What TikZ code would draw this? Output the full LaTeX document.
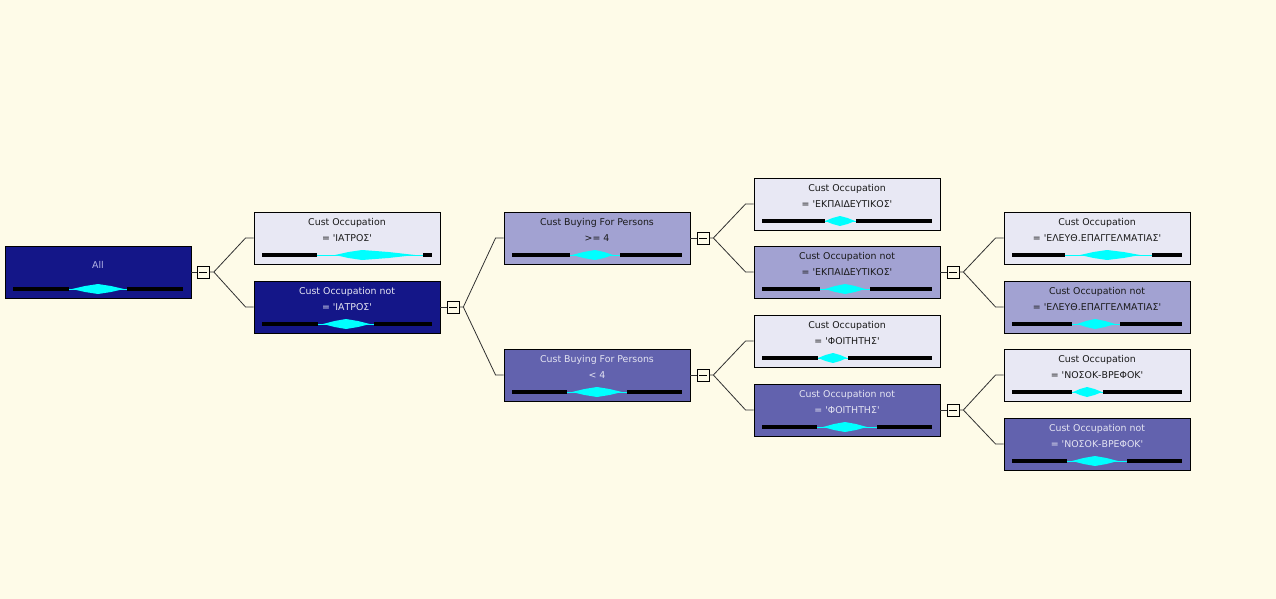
\documentclass[tikz,border=0pt]{standalone}
\usepackage{fontspec}
\newfontfamily\uifont{DejaVu Sans}
\usetikzlibrary{calc}
\definecolor{bg}{HTML}{FEFBE8}
\definecolor{navy}{HTML}{141688}
\definecolor{pale}{HTML}{E8E8F4}
\definecolor{mid}{HTML}{A2A2D2}
\definecolor{deep}{HTML}{6262AE}
\definecolor{darktxt}{HTML}{1A1A1A}
\definecolor{lighttxt}{HTML}{E4E4F2}
\definecolor{alltxt}{HTML}{B4B4E6}
\definecolor{wire}{HTML}{303030}
\definecolor{cy}{HTML}{00FFFF}
\tikzset{
  treenode/.style={draw=black, line width=0.9pt, minimum width=186pt, minimum height=52pt, inner sep=0pt},
  palenode/.style={treenode, fill=pale},
  midnode/.style={treenode, fill=mid},
  deepnode/.style={treenode, fill=deep},
  navynode/.style={treenode, fill=navy},
  txt/.style={font=\uifont\fontsize{9.4}{11}\selectfont, inner sep=0pt, anchor=base},
  darkt/.style={txt, text=darktxt},
  lightt/.style={txt, text=lighttxt},
  collapse/.style={draw=black, line width=0.8pt, fill=bg, minimum size=12pt, inner sep=0pt},
  wireline/.style={draw=wire, line width=0.8pt},
  bartip/.style={line width=4pt, draw=black, line cap=butt},
  cyanline/.style={line width=1pt, draw=cy},
}
\newcommand{\distbar}[8]{%
  \draw[bartip] (#2,#1) -- (#3,#1);
  \draw[bartip] (#7,#1) -- (#8,#1);
  \draw[cyanline] (#3,#1) -- (#7,#1);
  \fill[cy] (#4,#1) -- ({#4+0.5*(#5-#4)},{#1-3}) -- (#5,{#1-5}) -- ({#5+0.5*(#6-#5)},{#1-3}) -- (#6,#1)
     -- ({#5+0.5*(#6-#5)},{#1+3}) -- (#5,{#1+5}) -- ({#4+0.5*(#5-#4)},{#1+3}) -- cycle;
}
\newcommand{\minus}[1]{\draw[line width=0.8pt] ([xshift=-4pt]#1.center) -- ([xshift=4pt]#1.center);}
\begin{document}
\begin{tikzpicture}[x=1pt,y=-1pt]
\useasboundingbox (0,0) rectangle (1276,599);
\fill[bg] (0,0) rectangle (1276,599);

% nodes
\node[navynode] (root) at (98,272) {};
\node[palenode] (A) at (347,238) {};
\node[navynode] (B) at (347,307) {};
\node[midnode] (C) at (597,238) {};
\node[deepnode] (D) at (597,375) {};
\node[palenode] (E) at (847,204) {};
\node[midnode] (F) at (847,272) {};
\node[palenode] (G) at (847,341) {};
\node[deepnode] (H) at (847,410) {};
\node[palenode] (I) at (1097,238) {};
\node[midnode] (J) at (1097,307) {};
\node[palenode] (K) at (1097,375) {};
\node[deepnode] (L) at (1097,444) {};

% texts
\node[txt, text=alltxt] (rootT) at ([yshift=-22.5pt]root.north) {All};
\node[darkt] (A1) at ([yshift=-13.7pt]A.north) {Cust Occupation};
\node[darkt] (A2) at ([yshift=-30.3pt]A.north) {= 'ΙΑΤΡΟΣ'};
\node[lightt] (B1) at ([yshift=-13.7pt]B.north) {Cust Occupation not};
\node[lightt] (B2) at ([yshift=-30.3pt]B.north) {= 'ΙΑΤΡΟΣ'};
\node[darkt] (C1) at ([yshift=-13.7pt]C.north) {Cust Buying For Persons};
\node[darkt] (C2) at ([yshift=-30.3pt]C.north) {>= 4};
\node[lightt] (D1) at ([yshift=-13.7pt]D.north) {Cust Buying For Persons};
\node[lightt] (D2) at ([yshift=-30.3pt]D.north) {< 4};
\node[darkt] (E1) at ([yshift=-13.7pt]E.north) {Cust Occupation};
\node[darkt] (E2) at ([yshift=-30.3pt]E.north) {= 'ΕΚΠΑΙΔΕΥΤΙΚΟΣ'};
\node[darkt] (F1) at ([yshift=-13.7pt]F.north) {Cust Occupation not};
\node[darkt] (F2) at ([yshift=-30.3pt]F.north) {= 'ΕΚΠΑΙΔΕΥΤΙΚΟΣ'};
\node[darkt] (G1) at ([yshift=-13.7pt]G.north) {Cust Occupation};
\node[darkt] (G2) at ([yshift=-30.3pt]G.north) {= 'ΦΟΙΤΗΤΗΣ'};
\node[lightt] (H1) at ([yshift=-13.7pt]H.north) {Cust Occupation not};
\node[lightt] (H2) at ([yshift=-30.3pt]H.north) {= 'ΦΟΙΤΗΤΗΣ'};
\node[darkt] (I1) at ([yshift=-13.7pt]I.north) {Cust Occupation};
\node[darkt] (I2) at ([yshift=-30.3pt]I.north) {= 'ΕΛΕΥΘ.ΕΠΑΓΓΕΛΜΑΤΙΑΣ'};
\node[darkt] (J1) at ([yshift=-13.7pt]J.north) {Cust Occupation not};
\node[darkt] (J2) at ([yshift=-30.3pt]J.north) {= 'ΕΛΕΥΘ.ΕΠΑΓΓΕΛΜΑΤΙΑΣ'};
\node[darkt] (K1) at ([yshift=-13.7pt]K.north) {Cust Occupation};
\node[darkt] (K2) at ([yshift=-30.3pt]K.north) {= 'ΝΟΣΟΚ-ΒΡΕΦΟΚ'};
\node[lightt] (L1) at ([yshift=-13.7pt]L.north) {Cust Occupation not};
\node[lightt] (L2) at ([yshift=-30.3pt]L.north) {= 'ΝΟΣΟΚ-ΒΡΕΦΟΚ'};

% distribution bars: y, x0, b, d, m, e, c, x1
\distbar{289}{13}{69}{72}{98}{124}{127}{183}
\distbar{255}{262}{317}{335}{362}{415}{423}{432}
\distbar{324}{262}{318}{323}{346}{370}{374}{432}
\distbar{255}{512}{570}{572}{595}{613}{620}{682}
\distbar{392}{512}{567}{572}{597}{622}{627}{682}
\distbar{221}{762}{825}{825}{840}{855}{856}{932}
\distbar{289}{762}{820}{825}{845}{865}{870}{932}
\distbar{358}{762}{818}{818}{833}{847}{848}{932}
\distbar{427}{762}{817}{823}{845}{867}{877}{932}
\distbar{255}{1012}{1065}{1080}{1107}{1140}{1152}{1182}
\distbar{324}{1012}{1072}{1077}{1095}{1115}{1120}{1182}
\distbar{392}{1012}{1072}{1073}{1087}{1102}{1103}{1182}
\distbar{461}{1012}{1067}{1072}{1095}{1118}{1127}{1182}

% collapse boxes
\node[collapse] (c0) at ([xshift=12pt]root.east) {};
\node[collapse] (c1) at ([xshift=12.5pt]B.east) {};
\node[collapse] (c2) at ([xshift=12.5pt]C.east) {};
\node[collapse] (c3) at ([xshift=12.5pt]D.east) {};
\node[collapse] (c4) at ([xshift=12.5pt]F.east) {};
\node[collapse] (c5) at ([xshift=12.5pt]H.east) {};
\minus{c0}\minus{c1}\minus{c2}\minus{c3}\minus{c4}\minus{c5}

% connectors
\foreach \p/\c in {root/c0, B/c1, C/c2, D/c3, F/c4, H/c5}
  \draw[wireline] (\p.east) -- (\c.west);
\foreach \c/\a/\b in {c0/A/B, c1/C/D, c2/E/F, c3/G/H, c4/I/J, c5/K/L}{
  \coordinate (br\c) at ([xshift=4pt]\c.east);
  \draw[wireline] (\c.east) -- (br\c) -- ([xshift=-8pt]\a.west) -- (\a.west);
  \draw[wireline] (br\c) -- ([xshift=-8pt]\b.west) -- (\b.west);
}
\end{tikzpicture}
\end{document}
